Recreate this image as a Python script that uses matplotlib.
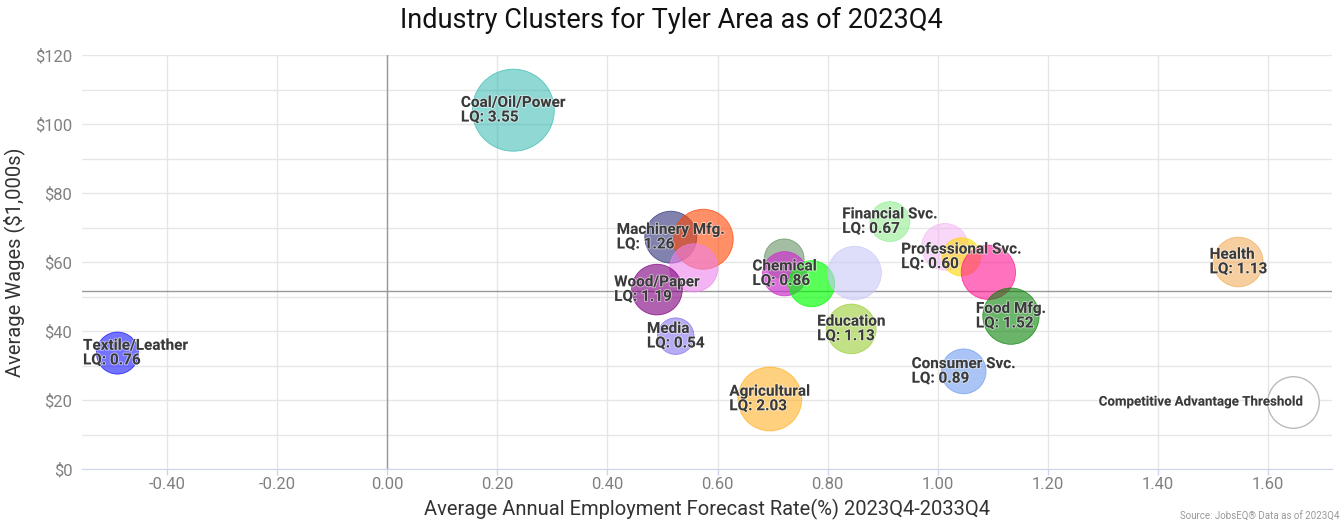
"""
plot.py - bubble chart of industry clusters (wages vs. employment forecast).
"""

import numpy as np
import matplotlib
matplotlib.use("Agg")
import matplotlib.pyplot as plt
import matplotlib.colors as mcolors
import matplotlib.patheffects as pe
from matplotlib.ticker import FuncFormatter, MultipleLocator

plt.rcParams["font.family"] = ["Roboto", "DejaVu Sans"]
plt.rcParams["axes.unicode_minus"] = False

# ───────────────────────────────────────────────────────────── data ─────────

# draw order = list order ("" = bubble without a visible label)
names = [
    "Coal/Oil/Power", "Textile/Leather", "Machinery Mfg.", "", "",
    "Wood/Paper", "Media", "", "Chemical", "", "", "Education",
    "Financial Svc.", "", "Professional Svc.", "", "Food Mfg.",
    "Consumer Svc.", "Agricultural", "Health",
]
growth = [
    0.229, -0.490, 0.515, 0.574, 0.557,
    0.490, 0.524, 0.721, 0.722, 0.771, 0.849, 0.843,
    0.913, 1.013, 1.043, 1.092, 1.133,
    1.047, 0.695, 1.546,
]
wages = [
    104.0, 33.6, 67.2, 66.6, 58.3,
    52.0, 38.5, 60.9, 56.6, 53.7, 56.8, 40.6,
    71.7, 64.4, 61.5, 57.0, 44.3,
    28.3, 20.3, 60.0,
]
lq = [
    3.55, 0.76, 1.26, 1.76, 1.05,
    1.19, 0.54, 0.67, 0.86, 0.95, 1.35, 1.13,
    0.67, 0.98, 0.60, 1.40, 1.52,
    0.89, 2.03, 1.13,
]

threshold_label = "Competitive Advantage Threshold"
threshold_growth = 1.645
threshold_wage = 19.4
threshold_lq = 1.24

ref_growth = 0.0     # vertical reference line
ref_wage = 51.7      # horizontal reference line (average wage)

x_ticks = [-0.4, -0.2, 0.0, 0.2, 0.4, 0.6, 0.8, 1.0, 1.2, 1.4, 1.6]

# ─────────────────────────────────────────────────────────── styles ─────────

colors = [
    "lightseagreen", "blue", "#2f2f7a", "orangered", "violet",
    "purple", "mediumslateblue", "#5a8a5a", "#cc33cc", "lime", "#c8c8f8",
    "yellowgreen", "lightgreen", "#f4b0f4", "gold", "deeppink", "green",
    "cornflowerblue", "orange", "#f0a040",
]
alphas = [
    0.5, 0.55, 0.6, 0.6, 0.6,
    0.62, 0.55, 0.55, 0.7, 0.65, 0.6, 0.6,
    0.6, 0.5, 0.6, 0.6, 0.58,
    0.55, 0.5, 0.5,
]

DPI = 100


def bubble_size(value):
    """LQ -> scatter size (pt^2), radius in px grows with sqrt(LQ)."""
    r_px = 3.78 + 19.76 * np.sqrt(np.asarray(value, dtype=float))
    d_pt = 2 * r_px * 72.0 / DPI
    return d_pt ** 2


fig = plt.figure(figsize=(13.42, 5.23), dpi=DPI)
ax = fig.add_axes([82 / 1342, 54 / 523, (1331.7 - 82) / 1342, (469 - 55) / 523])

ax.set_xlim(-0.5544, 1.7156)
ax.set_ylim(0, 120)

# grid + reference lines
ax.set_xticks(x_ticks)
ax.yaxis.set_major_locator(MultipleLocator(20))
ax.yaxis.set_minor_locator(MultipleLocator(10))
ax.grid(True, axis="x", color="#e6e6e6", lw=1)
ax.grid(True, axis="y", which="both", color="#e6e6e6", lw=1)
ax.set_axisbelow(True)
ax.axvline(ref_growth, color="#999999", lw=1, zorder=1)
ax.axhline(ref_wage, color="#999999", lw=1, zorder=1)

# bubbles
face = [mcolors.to_rgba(c, a) for c, a in zip(colors, alphas)]
edge = [mcolors.to_rgba(c, min(1.0, a + 0.15)) for c, a in zip(colors, alphas)]
ax.scatter(growth, wages, s=bubble_size(lq), c=face, edgecolors=edge,
           linewidths=0.6, zorder=3)
ax.scatter([threshold_growth], [threshold_wage], s=bubble_size(threshold_lq),
           c="white", edgecolors="#bbbbbb", linewidths=1, zorder=3)

# labels, centred on the bubble, nudged back inside the plot if needed
outline = [pe.withStroke(linewidth=1.2, foreground=(1, 1, 1, 0.6))]
labels = []
for n, x, y, v in zip(names, growth, wages, lq):
    if not n:
        continue
    t = ax.annotate(f"{n}\nLQ: {v:.2f}", (x, y), xytext=(0, 0),
                    textcoords="offset pixels", ha="center", va="center",
                    multialignment="left", fontsize=11, fontweight="bold",
                    color="#3a3a3a", linespacing=1.05, zorder=5,
                    path_effects=outline)
    labels.append(t)
t = ax.annotate(threshold_label, (threshold_growth, threshold_wage),
                xytext=(0, 0), textcoords="offset pixels", ha="center",
                va="center", fontsize=9.6, fontweight="bold", color="#3a3a3a",
                zorder=5, path_effects=outline)
labels.append(t)

fig.canvas.draw()
renderer = fig.canvas.get_renderer()
ax_bb = ax.get_window_extent(renderer)
for t in labels:
    bb = t.get_window_extent(renderer)
    dx = 0.0
    if bb.x0 < ax_bb.x0 + 1:
        dx = ax_bb.x0 + 1 - bb.x0
    elif bb.x1 > ax_bb.x1 - 27:
        dx = ax_bb.x1 - 27 - bb.x1
    t.set_position((dx, 0))

# axes styling
for side in ("top", "right", "left"):
    ax.spines[side].set_visible(False)
ax.spines["bottom"].set_color("#ccd6eb")
ax.xaxis.set_major_formatter(FuncFormatter(lambda v, _: f"{v:.2f}"))
ax.yaxis.set_major_formatter(FuncFormatter(lambda v, _: f"${v:.0f}"))
ax.tick_params(axis="x", colors="#ccd6eb", length=4, width=1, pad=2,
               labelcolor="#808080", labelsize=12)
ax.tick_params(axis="y", which="both", length=0, pad=7,
               labelcolor="#808080", labelsize=12)

ax.set_xlabel("Average Annual Employment Forecast Rate(%) 2023Q4-2033Q4",
              fontsize=14.5, color="#333333", labelpad=5)
ax.set_ylabel("Average Wages ($1,000s)", fontsize=14.5, color="#333333",
              labelpad=7)

fig.text(0.5, 1 - 20 / 523, "Industry Clusters for Tyler Area as of 2023Q4",
         ha="center", va="center", fontsize=19.5, color="#111111")
fig.text(1339 / 1342, 1 / 523, "Source: JobsEQ\u00ae Data as of 2023Q4",
         ha="right", va="bottom", fontsize=7, color="#999999")

fig.savefig("out.png", dpi=DPI)
plt.close(fig)
